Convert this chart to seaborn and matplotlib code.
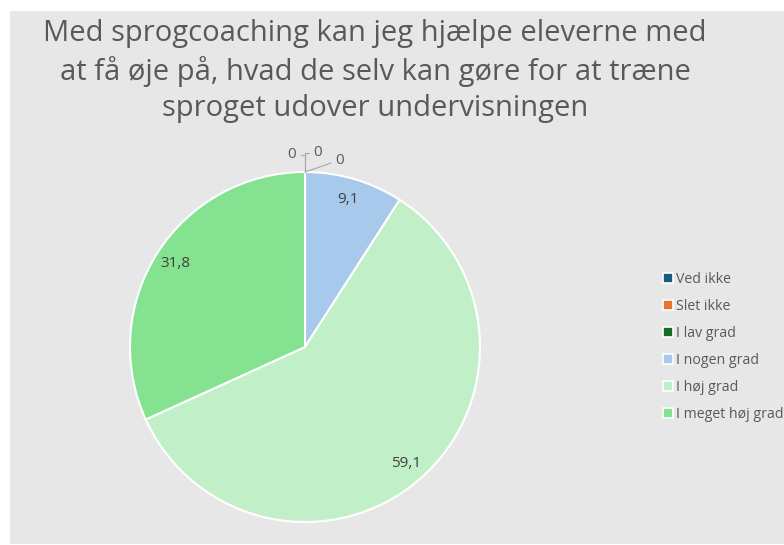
import numpy as np
import matplotlib.pyplot as plt
import seaborn as sns
from matplotlib.lines import Line2D
from matplotlib.patches import Rectangle

# Survey answers (percent)
categories = ["Ved ikke", "Slet ikke", "I lav grad", "I nogen grad", "I høj grad", "I meget høj grad"]
values = [0, 0, 0, 9.1, 59.1, 31.8]
colors = ["#156082", "#e97132", "#196b24", "#a6c9ec", "#c1f0c8", "#84e291"]
title = ("Med sprogcoaching kan jeg hjælpe eleverne med\n"
         "at få øje på, hvad de selv kan gøre for at træne\n"
         "sproget udover undervisningen")

sns.set_style("white")
plt.rcParams["font.family"] = ["Open Sans", "DejaVu Sans"]

W, H = 784, 545
fig = plt.figure(figsize=(W / 100, H / 100), dpi=100)
fig.patches.append(Rectangle((10 / W, 1 / H), 1, 533 / H, transform=fig.transFigure,
                             facecolor="#e7e7e7", edgecolor="none", zorder=-10))

# pie area: center (305, 347), radius 175 px
ax = fig.add_axes([130 / W, 23 / H, 350 / W, 350 / H])
ax.set_facecolor("none")
wedges, _ = ax.pie(values, colors=colors, startangle=90, counterclock=False, radius=1,
                   wedgeprops=dict(edgecolor="white", linewidth=1.5))
for w in wedges:
    w.set_clip_on(False)
ax.set_xlim(-1, 1)
ax.set_ylim(-1, 1)
ax.set_aspect("equal")
ax.axis("off")

# data labels
zero_offsets = [(-13, 17), (13, 19), (35, 12)]
zero_styles = ["angle,angleA=0,angleB=90,rad=0", "angle,angleA=0,angleB=90,rad=0", "arc3"]
zi = 0
for w, v in zip(wedges, values):
    theta = np.deg2rad((w.theta1 + w.theta2) / 2)
    txt = f"{v:.1f}".replace(".", ",") if v else "0"
    if v > 0:
        ax.text(0.88 * np.cos(theta), 0.88 * np.sin(theta), txt, ha="center", va="center",
                fontsize=11, color="#404040")
    else:
        ax.annotate(txt, xy=(np.cos(theta), np.sin(theta)), xytext=zero_offsets[zi],
                    textcoords="offset pixels", ha="center", va="center",
                    fontsize=11, color="#595959", annotation_clip=False,
                    arrowprops=dict(arrowstyle="-", color="#a6a6a6", lw=0.8,
                                    connectionstyle=zero_styles[zi],
                                    shrinkA=1, shrinkB=0))
        zi += 1

fig.text(375 / W, 1 - 71 / H, title, ha="center", va="center", fontsize=21,
         color="#595959", linespacing=1.33)

handles = [Line2D([], [], marker="s", linestyle="", markersize=7, markerfacecolor=c,
                  markeredgecolor="white", markeredgewidth=1.2) for c in colors]
fig.legend(handles, categories, loc="center left", bbox_to_anchor=(662 / W, 1 - 347 / H),
           frameon=False, fontsize=10.2, labelcolor="#595959", handlelength=0.8,
           handletextpad=0.2, labelspacing=0.84, borderaxespad=0, borderpad=0)

fig.savefig("out.png", dpi=100)
